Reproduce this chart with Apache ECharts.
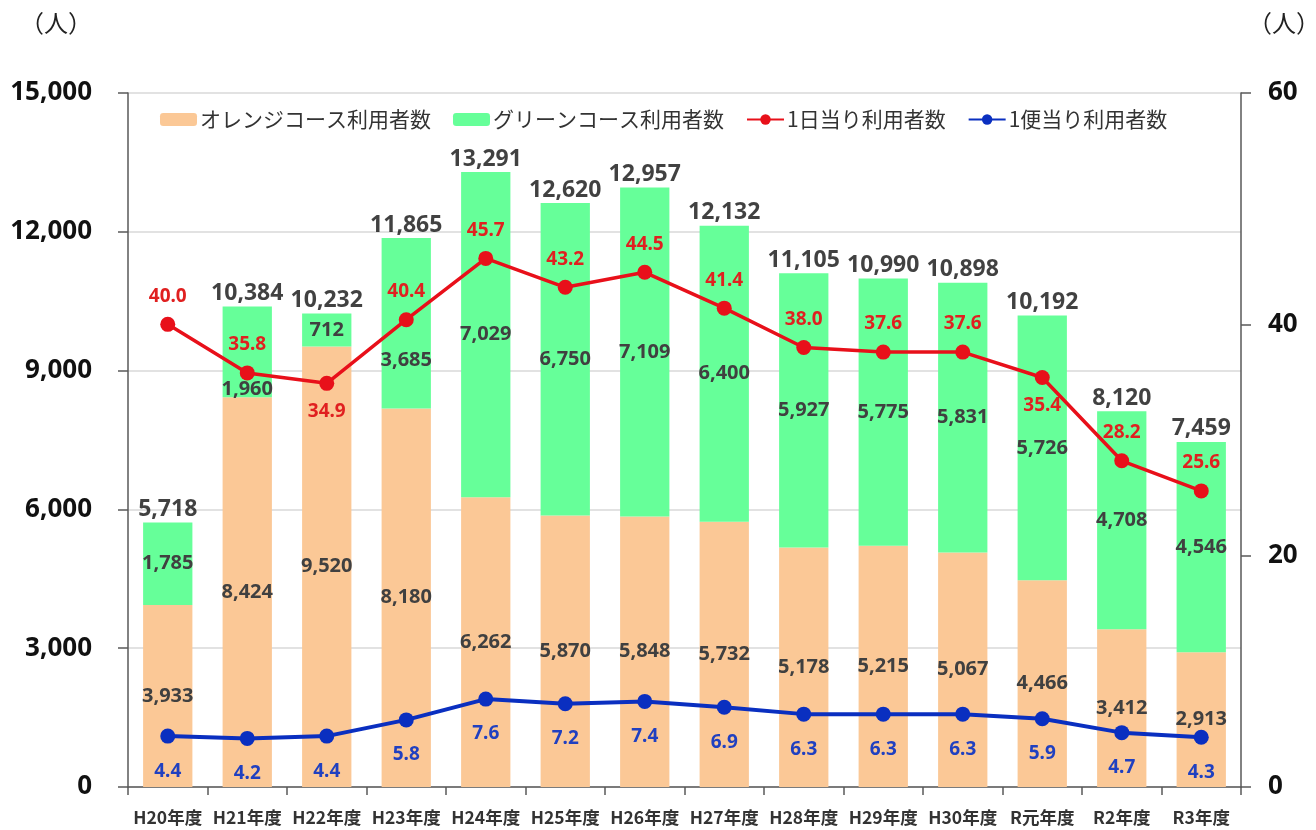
<!DOCTYPE html>
<html>
<head>
<meta charset="utf-8">
<script src="https://cdn.jsdelivr.net/npm/echarts@6/dist/echarts.min.js"></script>
<style>html,body{margin:0;padding:0;background:#fff}#c{width:1316px;height:830px}</style>
</head>
<body>
<div id="c"></div>
<script>
const categories = ['H20年度','H21年度','H22年度','H23年度','H24年度','H25年度','H26年度','H27年度','H28年度','H29年度','H30年度','R元年度','R2年度','R3年度'];
const orangeUsers = [3933, 8424, 9520, 8180, 6262, 5870, 5848, 5732, 5178, 5215, 5067, 4466, 3412, 2913];
const greenUsers = [1785, 1960, 712, 3685, 7029, 6750, 7109, 6400, 5927, 5775, 5831, 5726, 4708, 4546];
const totalUsers = [5718, 10384, 10232, 11865, 13291, 12620, 12957, 12132, 11105, 10990, 10898, 10192, 8120, 7459];
const perDay = [40.0, 35.8, 34.9, 40.4, 45.7, 43.2, 44.5, 41.4, 38.0, 37.6, 37.6, 35.4, 28.2, 25.6];
const perTrip = [4.4, 4.2, 4.4, 5.8, 7.6, 7.2, 7.4, 6.9, 6.3, 6.3, 6.3, 5.9, 4.7, 4.3];
// which per-day labels sit below their point, and which green labels are pushed down to clear the red line
const perDayLabelBelow = [false, false, true, false, false, false, false, false, false, false, false, true, false, false];
const greenLabelShifted = [false, true, false, true, false, false, false, false, false, false, false, false, false, false];

const FONT = "'Noto Sans', 'Noto Sans CJK JP', sans-serif";
const JP = "'Noto Sans CJK JP', sans-serif";
const fmt = v => v.toLocaleString('en-US');

const chart = echarts.init(document.getElementById('c'), null, {renderer: 'canvas'});
chart.setOption({
  animation: false,
  backgroundColor: '#fff',
  textStyle: {fontFamily: FONT},
  grid: {left: 128, right: 75, top: 93, bottom: 43, containLabel: false},
  legend: {
    left: 155, top: 104,
    itemGap: 22, itemWidth: 37, itemHeight: 13,
    textStyle: {fontSize: 21, color: '#333', fontFamily: JP, padding: [0, 0, 0, -2]},
    data: ['オレンジコース利用者数', 'グリーンコース利用者数', '1日当り利用者数', '1便当り利用者数']
  },
  graphic: [
    {type: 'text', left: 20, top: 11, style: {text: '（人）', fontSize: 24, fill: '#222', fontFamily: JP}},
    {type: 'text', left: 1248, top: 11, style: {text: '（人）', fontSize: 24, fill: '#222', fontFamily: JP}}
  ],
  xAxis: {
    type: 'category', data: categories,
    axisLine: {lineStyle: {color: '#595959', width: 1.5}},
    axisTick: {show: true, length: 8, interval: 0, lineStyle: {color: '#595959', width: 1.5}},
    axisLabel: {interval: 0, fontSize: 17.5, fontWeight: 'bold', color: '#333', margin: 22, fontFamily: JP}
  },
  yAxis: [
    {
      type: 'value', min: 0, max: 15000, interval: 3000,
      axisLine: {show: true, lineStyle: {color: '#595959', width: 1.5}},
      axisTick: {show: true, length: 10, lineStyle: {color: '#595959', width: 1.5}},
      axisLabel: {fontSize: 26, fontWeight: 'bold', color: '#111', margin: 36, formatter: v => fmt(v)},
      splitLine: {show: true, lineStyle: {color: '#d9d9d9', width: 1.5}}
    },
    {
      type: 'value', min: 0, max: 60, interval: 20, position: 'right',
      axisLine: {show: true, lineStyle: {color: '#595959', width: 1.5}},
      axisTick: {show: true, length: 10, lineStyle: {color: '#595959', width: 1.5}},
      axisLabel: {fontSize: 26, fontWeight: 'bold', color: '#111', margin: 27},
      splitLine: {show: false}
    }
  ],
  series: [
    {
      name: 'オレンジコース利用者数', type: 'bar', stack: 'u', data: orangeUsers,
      barWidth: '62%', itemStyle: {color: '#FBC896'},
      label: {show: true, position: 'inside', fontSize: 20, fontWeight: 'bold', color: '#404040', formatter: p => fmt(p.value)}
    },
    {
      name: 'グリーンコース利用者数', type: 'bar', stack: 'u',
      data: greenUsers.map((v, i) => ({value: v, label: {offset: [0, greenLabelShifted[i] ? 37 : 0]}})),
      barWidth: '62%', itemStyle: {color: '#66FF99'},
      label: {show: true, position: 'inside', fontSize: 20, fontWeight: 'bold', color: '#404040', formatter: p => fmt(p.value)}
    },
    {
      name: '合計', type: 'scatter', data: totalUsers, symbolSize: 1,
      itemStyle: {color: 'rgba(0,0,0,0)'}, z: 5,
      label: {show: true, position: 'top', distance: 1, fontSize: 23, fontWeight: 'bold', color: '#111', formatter: p => fmt(p.value)}
    },
    {
      name: '1日当り利用者数', type: 'line', yAxisIndex: 1, z: 6,
      data: perDay.map((v, i) => ({value: v, label: {position: perDayLabelBelow[i] ? 'bottom' : 'top'}})),
      symbol: 'circle', symbolSize: 15,
      lineStyle: {color: '#E8101A', width: 3.5},
      itemStyle: {color: '#E8101A'},
      label: {show: true, distance: 11, fontSize: 19, fontWeight: 'bold', color: '#E02020', formatter: p => p.value.toFixed(1)}
    },
    {
      name: '1便当り利用者数', type: 'line', yAxisIndex: 1, z: 6,
      data: perTrip,
      symbol: 'circle', symbolSize: 15,
      lineStyle: {color: '#0A2FC0', width: 4},
      itemStyle: {color: '#0A2FC0'},
      label: {show: true, position: 'bottom', distance: 18, fontSize: 19, fontWeight: 'bold', color: '#2040C0', formatter: p => p.value.toFixed(1)}
    }
  ]
});
</script>
</body>
</html>
